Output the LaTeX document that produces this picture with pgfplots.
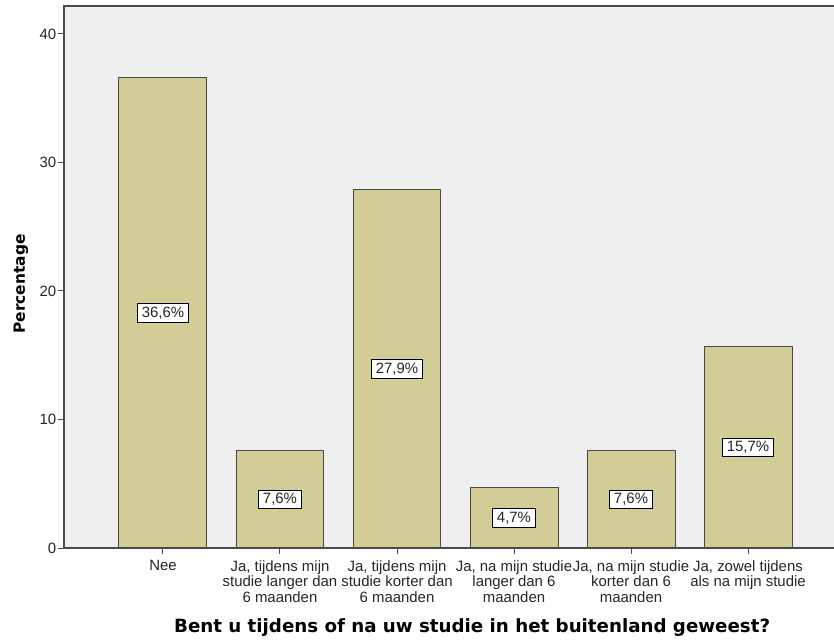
\documentclass[border=0pt]{standalone}
\usepackage{fontspec}
\setmainfont{Liberation Sans}
\newfontfamily\titlefont{DejaVu Sans}
\usepackage{pgfplots}
\usepackage{pgfplotstable}
\pgfplotsset{compat=1.18}
\definecolor{bg}{HTML}{EFEFEF}
\definecolor{barfill}{HTML}{D2CD97}
\definecolor{edge}{HTML}{4A4A4A}
\pgfplotstableread{
x y
0 36.6
1 7.6
2 27.9
3 4.7
4 7.6
5 15.7
}\datatable
\begin{document}
\begin{tikzpicture}[x=1bp,y=1bp]
\useasboundingbox (-64,-96) rectangle (770,548);
\begin{axis}[
  at={(0,0)}, anchor=south west,
  scale only axis, width=770bp, height=542bp,
  xmin=-0.846, xmax=5.735, ymin=0, ymax=42.18,
  axis background/.style={fill=bg},
  axis lines*=left,
  axis line style={draw=none},
  tick style={edge, line width=1pt},
  tick align=outside,
  major tick length=6bp,
  xtick={0,1,2,3,4,5},
  xticklabels={Nee,
    {Ja, tijdens mijn\\studie langer dan\\6 maanden},
    {Ja, tijdens mijn\\studie korter dan\\6 maanden},
    {Ja, na mijn studie\\langer dan 6\\maanden},
    {Ja, na mijn studie\\korter dan 6\\maanden},
    {Ja, zowel tijdens\\als na mijn studie}},
  xticklabel style={align=center, font=\fontsize{15}{15.8}\selectfont, text=black!85, inner sep=1pt, yshift=-5bp},
  ytick={0,10,20,30,40},
  yticklabel style={font=\fontsize{15}{16}\selectfont, text=black!85, inner sep=1.5pt},
  /pgf/number format/assume math mode=true,
  xlabel={Bent u tijdens of na uw studie in het buitenland geweest?},
  xlabel style={at={(axis description cs:0.53,0)}, anchor=center, yshift=-80bp, font=\titlefont\bfseries\fontsize{18.3}{20}\selectfont},
  ylabel={Percentage},
  ylabel style={at={(axis description cs:-0.056,0.487)}, anchor=center, rotate=0, font=\titlefont\bfseries\fontsize{15.5}{18}\selectfont},
  clip=false,
]
\addplot[ybar, bar width=0.752, fill=barfill, draw=edge, line width=1pt] table[x=x, y=y] {\datatable};
\addplot[draw=none, mark=none, point meta=explicit,
  nodes near coords={\pgfmathprintnumber[fixed, fixed zerofill, precision=1, use comma]{\pgfplotspointmeta}\%},
  every node near coord/.style={anchor=center, fill=white, draw=black, line width=0.8pt, inner xsep=4.5pt, inner ysep=3pt, font=\fontsize{15}{16}\selectfont, text=black!85}]
  table[x=x, y expr=\thisrow{y}/2, meta=y] {\datatable};
\draw[edge, line width=1.2pt] (rel axis cs:1,1) -- (rel axis cs:0,1) -- (rel axis cs:0,0) -- (rel axis cs:1,0);
\end{axis}
\end{tikzpicture}
\end{document}
